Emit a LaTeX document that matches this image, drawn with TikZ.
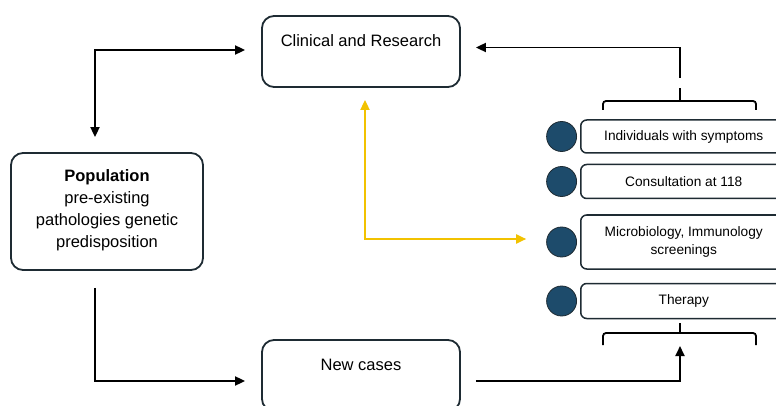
\documentclass[tikz,border=0pt]{standalone}
\usepackage{fontspec}
\setmainfont{Liberation Sans}
\usetikzlibrary{positioning,arrows.meta}

\definecolor{navy}{HTML}{1D4B6B}
\definecolor{boxline}{HTML}{1E2B33}
\definecolor{gold}{HTML}{F2C200}

\begin{document}
\begin{tikzpicture}[x=1pt, y=-1pt, >={Triangle[length=10pt,width=9pt]},
		mainbox/.style={draw=boxline, line width=1.8pt, rounded corners=12pt, minimum width=198pt, minimum height=71pt, align=center, font=\fontsize{16.5}{21}\selectfont},
		sidebox/.style={draw=boxline, line width=1.5pt, rounded corners=6pt, minimum width=206pt, align=center, font=\fontsize{13.7}{18}\selectfont},
		dot/.style={circle, fill=navy, draw=boxline, line width=0.8pt, minimum size=30pt, inner sep=0pt},
		arr/.style={line width=1.8pt, ->},
		yarr/.style={draw=gold, line width=1.8pt, <->},
		brace/.style={line width=1.8pt, rounded corners=3pt}]
	\useasboundingbox (0,0) rectangle (776,406);
	\clip (0,0) rectangle (776,406);

	% main boxes
	\node[mainbox] (clinical) at (361,51.5) {Clinical and Research\\\mbox{}};
	\node[mainbox, minimum width=192pt, minimum height=117pt, font=\fontsize{16.5}{22}\selectfont] (population) at (107,211.5) {\textbf{Population}\\pre-existing\\pathologies genetic\\predisposition\\[-16pt]\mbox{}};
	\node[mainbox] (newcases) at (361,375.5) {New cases\\\mbox{}};

	% side list
	\node[sidebox, anchor=west, minimum height=33pt] (symptoms) at (580,136.5) {Individuals with symptoms};
	\node[sidebox, minimum height=34pt, below=10pt of symptoms] (consult) {Consultation at 118};
	\node[sidebox, minimum height=54pt, below=15pt of consult] (micro) {Microbiology, Immunology\\screenings};
	\node[sidebox, minimum height=35pt, below=13pt of micro] (therapy) {Therapy};

	\node[dot, left=3pt of symptoms] (d1) {};
	\node[dot, left=3pt of consult] (d2) {};
	\node[dot, left=3pt of micro] (d3) {};
	\node[dot, left=3pt of therapy] (d4) {};

	% brackets
	\coordinate (topbr) at (680,88);
	\coordinate (botbr) at (680,346);
	\draw[brace] (603,110) -- (603,101) -- (756,101) -- (756,110);
	\draw[brace] (680,101) -- (topbr);
	\draw[brace] (603,345) -- (603,333) -- (756,333) -- (756,345);
	\draw[brace] (680,333) -- (680,323);

	% connectors
	\draw[arr, <->, shorten <=15pt, shorten >=16pt] ([xshift=-12pt]population.north) |- ([yshift=1.5pt]clinical.west);
	\draw[arr, shorten <=17pt, shorten >=16pt] ([xshift=-12pt]population.south) |- ([yshift=-5.5pt]newcases.west);
	\draw[arr, shorten <=15pt] ([yshift=-5.5pt]newcases.east) -| (botbr);
	\draw[arr, shorten <=10pt, shorten >=15pt] (topbr) |- ([yshift=4pt]clinical.east);
	\draw[yarr, shorten <=12pt, shorten >=20pt] ([xshift=4pt]clinical.south) |- ([yshift=3pt]d3.west);
\end{tikzpicture}
\end{document}
